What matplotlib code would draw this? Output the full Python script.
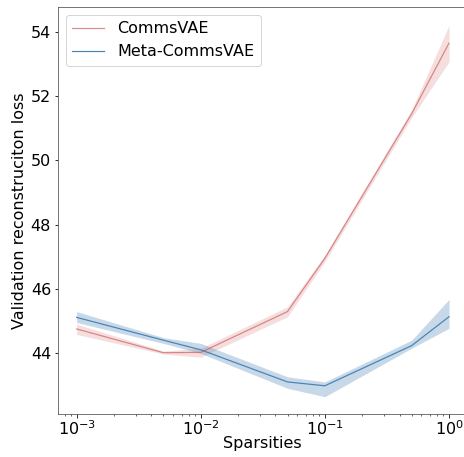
import numpy as np
import matplotlib
matplotlib.use("Agg")
import matplotlib.pyplot as plt

# sparsity levels
sparsities = [1e-3, 5e-3, 1e-2, 5e-2, 1e-1, 5e-1, 1.0]

# CommsVAE validation loss (mean and band)
comms_mean = [44.75, 44.01, 44.02, 45.29, 46.95, 51.45, 53.65]
comms_low = [44.58, 43.97, 43.87, 45.13, 46.85, 51.33, 53.07]
comms_high = [44.90, 44.06, 44.15, 45.44, 47.05, 51.57, 54.20]

# Meta-CommsVAE validation loss (mean and band)
meta_mean = [45.11, 44.40, 44.10, 43.10, 42.98, 44.23, 45.13]
meta_low = [44.95, 44.30, 43.99, 42.90, 42.64, 44.15, 44.77]
meta_high = [45.29, 44.48, 44.30, 43.26, 43.10, 44.40, 45.67]

fig = plt.figure(figsize=(464 / 72, 457 / 72), dpi=72)
ax = fig.add_axes([0.125, 0.094, 0.8828, 0.891])

ax.plot(sparsities, comms_mean, color='indianred', alpha=0.7, lw=1.2, label='CommsVAE')
ax.fill_between(sparsities, comms_low, comms_high, color='indianred', alpha=0.2, lw=0)
ax.plot(sparsities, meta_mean, color='steelblue', lw=1.2, label='Meta-CommsVAE')
ax.fill_between(sparsities, meta_low, meta_high, color='steelblue', alpha=0.3, lw=0)

ax.set_xscale('log')
ax.set_ylim(42.1, 54.78)
ax.set_yticks([44, 46, 48, 50, 52, 54])
ax.tick_params(labelsize=16)
ax.tick_params(axis='x', pad=2)
ax.set_xlabel('Sparsities', fontsize=16, labelpad=-2)
ax.set_ylabel('Validation reconstruciton loss', fontsize=16)
ax.legend(loc='upper left', fontsize=16)
for s in ax.spines.values():
    s.set_color('#555555')

fig.savefig('out.png', dpi=72)
